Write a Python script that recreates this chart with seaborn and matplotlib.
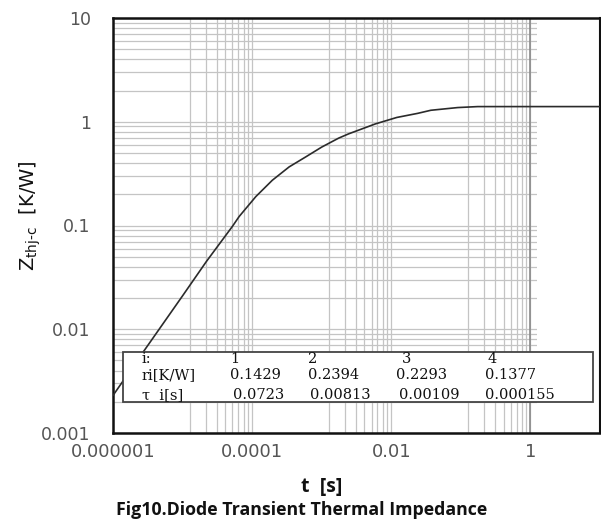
import matplotlib
matplotlib.use("Agg")
import numpy as np
import matplotlib.pyplot as plt
from matplotlib.ticker import FixedLocator, FixedFormatter, LogLocator, NullFormatter
from matplotlib.patches import Rectangle
import seaborn as sns

# ---- data ----
t_s = [1e-6, 2.7e-6, 1e-5, 2.2e-5, 5.2e-5, 6.5e-5, 1.13e-4, 1.95e-4, 3.4e-4,
       5.85e-4, 1.0e-3, 1.75e-3, 2.43e-3, 5.9e-3, 1.2e-2, 2.4e-2, 3.7e-2,
       9.0e-2, 0.175, 1.0, 10.0]
zth = [0.0023, 0.006, 0.021, 0.045, 0.098, 0.122, 0.19, 0.273, 0.367,
       0.457, 0.57, 0.695, 0.764, 0.953, 1.10, 1.205, 1.29,
       1.37, 1.40, 1.40, 1.40]

x_tick_vals = [1e-6, 1e-4, 1e-2, 1]
x_tick_labels = ["0.000001", "0.0001", "0.01", "1"]
y_tick_vals = [0.001, 0.01, 0.1, 1, 10]
y_tick_labels = ["0.001", "0.01", "0.1", "1", "10"]

tbl_index = ["1", "2", "3", "4"]
tbl_ri = ["0.1429", "0.2394", "0.2293", "0.1377"]
tbl_tau = ["0.0723", "0.00813", "0.00109", "0.000155"]

# ---- figure ----
sns.set_theme(style="white")
W, H = 601, 524
fig = plt.figure(figsize=(W / 100, H / 100), dpi=100)
ax = fig.add_axes([113 / W, 1 - 433 / H, 487 / W, 415 / H])

sns.lineplot(x=t_s, y=zth, ax=ax, color="#2b2b2b", linewidth=1.2,
             estimator=None, sort=False, zorder=3)

ax.set_xscale("log")
ax.set_yscale("log")
ax.set_xlim(1e-6, 10)
ax.set_ylim(0.001, 10)

ax.xaxis.set_major_locator(FixedLocator(x_tick_vals))
ax.xaxis.set_major_formatter(FixedFormatter(x_tick_labels))
# the original grid packs its minor lines closer to each labelled decade
grid_stretch = 1.28
xminor = [m * 10 ** (np.log10(k / 10) * grid_stretch)
          for m in (1e-4, 1e-2, 1.0) for k in range(2, 10)]
ax.xaxis.set_minor_locator(FixedLocator(xminor))
ax.xaxis.set_minor_formatter(NullFormatter())

ax.yaxis.set_major_locator(FixedLocator(y_tick_vals))
ax.yaxis.set_major_formatter(FixedFormatter(y_tick_labels))
ax.yaxis.set_minor_locator(LogLocator(base=10, subs=range(2, 10)))
ax.yaxis.set_minor_formatter(NullFormatter())

ax.set_axisbelow(True)
ax.grid(True, which="both", color="#c4c4c4", linewidth=0.9)

# area right of t = 1 has no grid (only short stubs)
ax.add_patch(Rectangle((10 ** 0.09, 1e-3), 10 - 10 ** 0.09, 10 - 1e-3,
                       facecolor="white", edgecolor="none", zorder=0.8))
ax.axvline(1, color="#8a8a8a", linewidth=1.2, zorder=0.9)

ax.tick_params(which="both", length=0)
ax.tick_params(axis="y", pad=16, labelsize=12.5, labelcolor="#555555")
ax.tick_params(axis="x", pad=7, labelsize=13, labelcolor="#555555")
for lab in ax.get_xticklabels() + ax.get_yticklabels():
    lab.set_fontfamily("DejaVu Sans")

for name, sp in ax.spines.items():
    sp.set_visible(True)
    sp.set_color("#111111")
    sp.set_linewidth(1.8 if name in ("left", "bottom", "top") else 1.5)

ax.set_xlabel("")
ax.set_ylabel("")

# ---- parameter table ----
def fx(px):
    return px / W

def fy(py):
    return 1 - py / H

fig.patches.append(Rectangle((fx(123), fy(402)), (593 - 123) / W, (402 - 352) / H,
                             transform=fig.transFigure, facecolor="white",
                             edgecolor="#444444", linewidth=1.3, zorder=5))
tfont = dict(family="DejaVu Serif", size=10.5, color="#111111", va="center",
             ha="left", zorder=6)
fig.text(fx(142), fy(359), "i:", **tfont)
fig.text(fx(142), fy(375), "ri[K/W]", **tfont)
fig.text(fx(142), fy(395), "τ  i[s]", **tfont)
col_x1 = [230, 308, 402, 488]
col_x2 = [230, 308, 396, 485]
col_x3 = [233, 310, 399, 485]
for i in range(4):
    fig.text(fx(col_x1[i]), fy(359), tbl_index[i], **tfont)
    fig.text(fx(col_x2[i]), fy(375), tbl_ri[i], **tfont)
    fig.text(fx(col_x3[i]), fy(395), tbl_tau[i], **tfont)

# ---- labels ----
fig.text(fx(30), fy(216), r"Z$_\text{thj-c}$  [K/W]", rotation=90,
         ha="center", va="center", fontsize=14, family="DejaVu Sans", color="#111111")
fig.text(fx(322), fy(487), "t  [s]", ha="center", va="center", fontsize=14,
         fontweight="bold", family="Open Sans", color="#111111")
fig.text(fx(302), fy(510), "Fig10.Diode Transient Thermal Impedance", ha="center",
         va="center", fontsize=12.8, fontweight="bold", family="Open Sans",
         color="#111111")

fig.savefig("out.png", dpi=100, facecolor="white")
